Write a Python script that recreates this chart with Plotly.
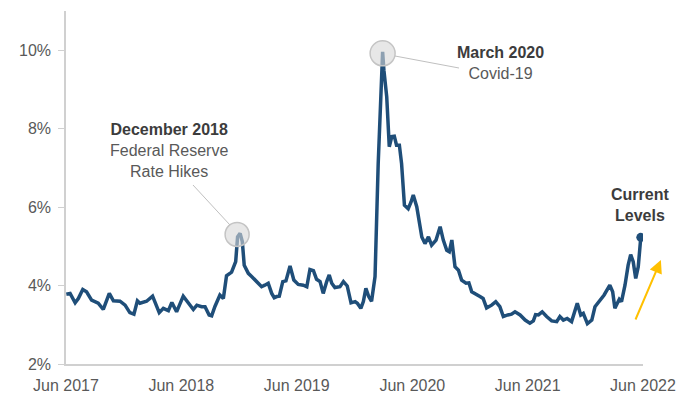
import plotly.graph_objects as go

dates = [
    "2017-06-02", "2017-06-14", "2017-06-30", "2017-07-10", "2017-07-24", "2017-08-05",
    "2017-08-21", "2017-09-11", "2017-09-27", "2017-10-16", "2017-10-29", "2017-11-19",
    "2017-12-05", "2017-12-20", "2018-01-02", "2018-01-13", "2018-01-21", "2018-02-11",
    "2018-03-02", "2018-03-23", "2018-04-05", "2018-04-21", "2018-05-02", "2018-05-17",
    "2018-06-07", "2018-06-23", "2018-07-09", "2018-07-20", "2018-08-04", "2018-08-15",
    "2018-08-28", "2018-09-05", "2018-09-15", "2018-10-01", "2018-10-12", "2018-10-22",
    "2018-11-07", "2018-11-20", "2018-11-26", "2018-12-04", "2018-12-11", "2018-12-17",
    "2018-12-30", "2019-01-11", "2019-01-25", "2019-02-10", "2019-02-20", "2019-03-03",
    "2019-03-14", "2019-03-22", "2019-03-30", "2019-04-07", "2019-04-18", "2019-04-28",
    "2019-05-11", "2019-05-23", "2019-06-06", "2019-06-22", "2019-07-03", "2019-07-13",
    "2019-07-24", "2019-08-03", "2019-08-14", "2019-08-24", "2019-09-04", "2019-09-12",
    "2019-09-20", "2019-09-30", "2019-10-16", "2019-10-27", "2019-11-08", "2019-11-20",
    "2019-12-03", "2019-12-10", "2019-12-21", "2019-12-29", "2020-01-06", "2020-01-15",
    "2020-01-24", "2020-02-04", "2020-02-14", "2020-02-22", "2020-02-28", "2020-03-03",
    "2020-03-12", "2020-03-20", "2020-03-28", "2020-04-05", "2020-04-12", "2020-04-21",
    "2020-04-28", "2020-05-07", "2020-05-19", "2020-05-28", "2020-06-04", "2020-06-15",
    "2020-06-23", "2020-07-01", "2020-07-11", "2020-07-22", "2020-08-01", "2020-08-15",
    "2020-08-28", "2020-09-07", "2020-09-18", "2020-09-26", "2020-10-04", "2020-10-14",
    "2020-10-25", "2020-11-04", "2020-11-18", "2020-11-27", "2020-12-06", "2020-12-16",
    "2021-01-01", "2021-01-11", "2021-01-22", "2021-02-07", "2021-02-20", "2021-03-05",
    "2021-03-16", "2021-03-30", "2021-04-11", "2021-04-22", "2021-05-08", "2021-05-24",
    "2021-06-08", "2021-06-19", "2021-06-26", "2021-07-05", "2021-07-17", "2021-07-31",
    "2021-08-16", "2021-09-01", "2021-09-11", "2021-09-22", "2021-10-04", "2021-10-18",
    "2021-11-05", "2021-11-16", "2021-11-24", "2021-12-07", "2021-12-21", "2021-12-31",
    "2022-01-16", "2022-01-29", "2022-02-16", "2022-02-25", "2022-03-04", "2022-03-18",
    "2022-03-25", "2022-04-05", "2022-04-15", "2022-04-23", "2022-05-01", "2022-05-09",
    "2022-05-17", "2022-05-22", "2022-05-25",
]

values = [
    3.78, 3.80, 3.56, 3.67, 3.90, 3.84,
    3.63, 3.55, 3.39, 3.80, 3.61, 3.60,
    3.50, 3.31, 3.27, 3.61, 3.55, 3.60,
    3.73, 3.31, 3.42, 3.36, 3.57, 3.33,
    3.73, 3.55, 3.39, 3.50, 3.46, 3.46,
    3.25, 3.23, 3.46, 3.76, 3.67, 4.25,
    4.34, 4.61, 5.24, 5.33, 5.12, 4.52,
    4.31, 4.22, 4.10, 3.97, 4.01, 4.06,
    3.80, 3.69, 3.72, 3.73, 4.10, 4.12,
    4.50, 4.14, 4.03, 4.01, 3.97, 4.41,
    4.38, 4.16, 4.10, 3.80, 4.10, 4.27,
    4.06, 3.95, 3.97, 4.10, 3.99, 3.56,
    3.59, 3.55, 3.42, 3.59, 3.93, 3.72,
    3.60, 4.23, 7.11, 8.81, 9.96, 9.49,
    8.81, 7.54, 7.80, 7.81, 7.58, 7.58,
    7.11, 6.05, 5.96, 6.13, 6.31, 6.01,
    5.67, 5.24, 5.07, 5.24, 5.03, 5.16,
    5.50, 5.16, 4.90, 4.86, 5.16, 4.48,
    4.39, 4.14, 4.06, 4.07, 3.84, 3.80,
    3.72, 3.67, 3.43, 3.50, 3.59, 3.46,
    3.21, 3.25, 3.27, 3.33, 3.25, 3.12,
    3.04, 3.10, 3.26, 3.25, 3.33, 3.21,
    3.10, 3.08, 3.21, 3.12, 3.16, 3.08,
    3.55, 3.25, 3.29, 3.03, 3.12, 3.46,
    3.63, 3.76, 4.01, 3.84, 3.42, 3.65,
    3.59, 4.01, 4.52, 4.79, 4.61, 4.18,
    4.48, 5.03, 5.23,
]

y_ticks = [2, 4, 6, 8, 10]
y_tick_labels = ["2%", "4%", "6%", "8%", "10%"]

LINE = "#1f4e79"
AXIS = "#d0d0d0"
TXT = "#595959"
DARK = "#3c3c3c"
FONT = "Liberation Sans, Arial, sans-serif"

fig = go.Figure()
fig.add_trace(go.Scatter(x=dates, y=values, mode="lines",
                         line=dict(color=LINE, width=3.5), hoverinfo="skip",
                         showlegend=False))
fig.add_trace(go.Scatter(x=[dates[-1]], y=[values[-1]], mode="markers",
                         marker=dict(color=LINE, size=9), showlegend=False,
                         hoverinfo="skip"))

# peaks (derived from data)
dec_i = max(range(0, 60), key=lambda i: values[i])
cov_i = max(range(len(values)), key=lambda i: values[i])

circ_fill = "rgba(215,215,215,0.6)"
circ_line = "#c4c4c4"
shapes = [
    dict(type="circle", xref="x", yref="y", xsizemode="pixel", ysizemode="pixel",
         xanchor=dates[dec_i], yanchor=values[dec_i], x0=-15, x1=9, y0=-13, y1=11,
         fillcolor=circ_fill, line=dict(color=circ_line, width=1.5), layer="above"),
    dict(type="circle", xref="x", yref="y", xsizemode="pixel", ysizemode="pixel",
         xanchor=dates[cov_i], yanchor=values[cov_i], x0=-12.5, x1=12.5, y0=-14, y1=11,
         fillcolor=circ_fill, line=dict(color=circ_line, width=1.5), layer="above"),
    dict(type="line", xref="paper", yref="paper", x0=0.2201, y0=0.5071, x1=0.2842, y1=0.3938,
         line=dict(color="#c0c0c0", width=1)),
    dict(type="line", xref="paper", yref="paper", x0=0.5702, y0=0.8725, x1=0.6811, y1=0.8385,
         line=dict(color="#c0c0c0", width=1)),
]

annotations = [
    dict(xref="paper", yref="paper", x=0.1785, y=0.606, showarrow=False,
         xanchor="center", yanchor="middle", align="center",
         text="<b><span style='color:%s'>December 2018</span></b><br>Federal Reserve<br>Rate Hikes" % DARK,
         font=dict(family=FONT, size=16, color=TXT)),
    dict(xref="paper", yref="paper", x=0.7536, y=0.853, showarrow=False,
         xanchor="center", yanchor="middle", align="center",
         text="<b><span style='color:%s'>March 2020</span></b><br>Covid-19" % DARK,
         font=dict(family=FONT, size=16, color=TXT)),
    dict(xref="paper", yref="paper", x=0.995, y=0.45, showarrow=False,
         xanchor="center", yanchor="middle", align="center",
         text="<b>Current<br>Levels</b>",
         font=dict(family=FONT, size=16, color=DARK)),
    dict(xref="paper", yref="paper", x=1.031, y=0.2946, axref="pixel", ayref="pixel",
         ax=-26, ay=61, showarrow=True, arrowhead=2, arrowsize=1.3, arrowwidth=2,
         arrowcolor="#FFC000", text=""),
]

fig.update_layout(
    width=680, height=400,
    margin=dict(l=66, r=37, t=11, b=36, autoexpand=False),
    paper_bgcolor="white", plot_bgcolor="white",
    font=dict(family=FONT, size=16, color=TXT),
    shapes=shapes, annotations=annotations,
    xaxis=dict(range=["2017-06-01", "2022-06-01"], tick0="2017-06-01", dtick="M12",
               tickformat="%b %Y", showgrid=False, zeroline=False, showline=True,
               linecolor=AXIS, linewidth=1.5, ticks="", ticklabelstandoff=6,
               automargin=False,
               tickfont=dict(family=FONT, size=16, color=TXT)),
    yaxis=dict(range=[2, 11], tickvals=y_ticks, ticktext=y_tick_labels, showgrid=False,
               zeroline=False, showline=True, linecolor=AXIS, linewidth=1.5,
               ticks="outside", ticklen=6, tickcolor=AXIS, tickwidth=1,
               ticklabelstandoff=4, automargin=False,
               tickfont=dict(family=FONT, size=16, color=TXT)),
)

# remove the browser's default 8px body margin so the 680x400 figure fills the window
fig.write_html("out.html", config={"displayModeBar": False},
               post_script="document.body.style.margin='0';document.body.style.overflow='hidden';")
